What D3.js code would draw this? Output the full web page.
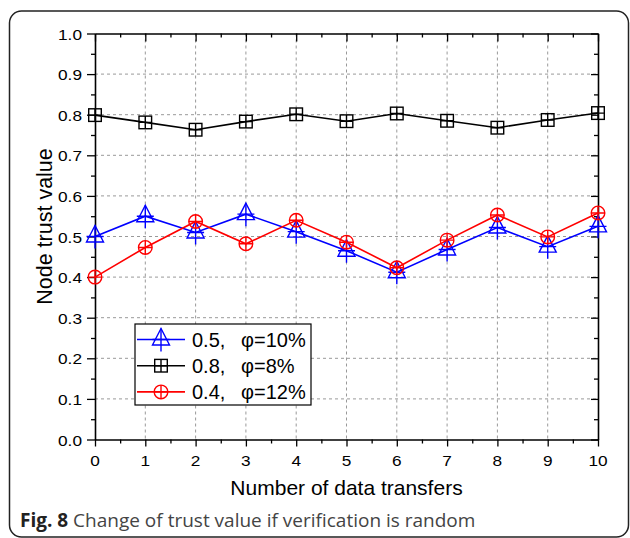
<!DOCTYPE html>
<html><head><meta charset="utf-8">
<script src="https://cdn.jsdelivr.net/npm/d3@7"></script>
<style>body{margin:0;background:#fff}svg{display:block}</style>
</head><body>
<script>
const xValues = [0,1,2,3,4,5,6,7,8,9,10];
const blueValues = [0.500,0.550,0.510,0.555,0.512,0.465,0.412,0.468,0.522,0.475,0.525];
const blackValues = [0.799,0.781,0.763,0.783,0.801,0.784,0.803,0.785,0.768,0.787,0.804];
const redValues = [0.400,0.473,0.537,0.482,0.540,0.486,0.423,0.491,0.553,0.499,0.558];
const seriesNames = ["0.5,   \u03c6=10%","0.8,   \u03c6=8%","0.4,   \u03c6=12%"];
const yTicks = [0,0.1,0.2,0.3,0.4,0.5,0.6,0.7,0.8,0.9,1.0];
const xTicks = [0,1,2,3,4,5,6,7,8,9,10];

(function(){
const W=630,H=538;
const svg=d3.select("body").append("svg").attr("width",W).attr("height",H);
svg.append("rect").attr("x",9.5).attr("y",11).attr("width",619).attr("height",526).attr("rx",12)
  .attr("fill","none").attr("stroke","#222").attr("stroke-width",1.5);

const L=95,R=598,T=33.5,B=439.5;
const x=d3.scaleLinear().domain([0,10]).range([L,R]);
const y=d3.scaleLinear().domain([0,1]).range([B,T]);
const font="Liberation Sans, Arial, sans-serif";
const SX=1.15;

// grid
const g=svg.append("g");
g.selectAll(".gx").data(xTicks.filter(d=>d>0&&d<10)).join("line")
  .attr("x1",d=>x(d)).attr("x2",d=>x(d)).attr("y1",T).attr("y2",B)
  .attr("stroke","#999").attr("stroke-dasharray","3,3").attr("stroke-width",1);
g.selectAll(".gy").data(yTicks.filter(d=>d>0&&d<1)).join("line")
  .attr("y1",d=>y(d)).attr("y2",d=>y(d)).attr("x1",L).attr("x2",R)
  .attr("stroke","#999").attr("stroke-dasharray","3,3").attr("stroke-width",1);

// axes
const minorX=d3.range(0,10.01,0.5), minorY=d3.range(0,1.001,0.05);
function styleAxis(sel){sel.select(".domain").attr("stroke","#000").attr("stroke-width",1.6);
  sel.selectAll(".tick line").attr("stroke","#000").attr("stroke-width",1.3);}
const isMajY=d=>Math.abs(d*10-Math.round(d*10))<1e-6;
const ax=svg.append("g");
const bot=ax.append("g").attr("transform",`translate(0,${B})`)
  .call(d3.axisBottom(x).tickValues(minorX).tickSize(4).tickSizeOuter(0).tickFormat(""));
bot.selectAll(".tick line").filter(d=>Number.isInteger(d)).attr("y2",7);
styleAxis(bot);
ax.append("g").selectAll("g").data(xTicks).join("g")
  .attr("transform",d=>`translate(${x(d)},${B+26.5}) scale(${SX},1)`)
  .append("text").attr("text-anchor","middle")
  .attr("font-family",font).attr("font-size",15).text(d=>d);
const lef=ax.append("g").attr("transform",`translate(${L},0)`)
  .call(d3.axisLeft(y).tickValues(minorY).tickSize(4).tickSizeOuter(0).tickFormat(""));
lef.selectAll(".tick line").filter(isMajY).attr("x2",-8);
styleAxis(lef);
ax.append("g").selectAll("g").data(yTicks).join("g")
  .attr("transform",d=>`translate(${L-13},${y(d)+6}) scale(${SX},1)`)
  .append("text").attr("text-anchor","end")
  .attr("font-family",font).attr("font-size",15).text(d=>d.toFixed(1));
const topAx=ax.append("g").attr("transform",`translate(0,${T})`)
  .call(d3.axisBottom(x).tickValues(minorX).tickSize(4).tickSizeOuter(0).tickFormat(""));
topAx.selectAll(".tick line").filter(d=>Number.isInteger(d)).attr("y2",8);
styleAxis(topAx);
const rig=ax.append("g").attr("transform",`translate(${R},0)`)
  .call(d3.axisLeft(y).tickValues(minorY).tickSize(4).tickSizeOuter(0).tickFormat(""));
rig.selectAll(".tick line").filter(isMajY).attr("x2",-7);
styleAxis(rig);

// titles
svg.append("text").attr("x",(L+R)/2).attr("y",495).attr("text-anchor","middle")
  .attr("font-family",font).attr("font-size",21).text("Number of data transfers");
svg.append("text").attr("transform",`translate(52,${(T+B)/2-10}) rotate(-90)`).attr("text-anchor","middle")
  .attr("font-family",font).attr("font-size",21.5).text("Node trust value");

function marker(sel,type,color){
  if(type==="tri"){
    sel.append("path").attr("d","M0,-11L-8.5,5.5L8.5,5.5Z").attr("fill","none").attr("stroke",color).attr("stroke-width",1.4);
    sel.append("path").attr("d","M-8.5,0H8.5M0,-11V12").attr("stroke",color).attr("stroke-width",1.4);
  } else if(type==="sq"){
    sel.append("rect").attr("x",-6.3).attr("y",-6.3).attr("width",12.6).attr("height",12.6).attr("fill","none").attr("stroke",color).attr("stroke-width",1.4);
    sel.append("path").attr("d","M-6.3,0H6.3M0,-6.3V6.3").attr("stroke",color).attr("stroke-width",1.4);
  } else {
    sel.append("circle").attr("r",6.8).attr("fill","none").attr("stroke",color).attr("stroke-width",1.4);
    sel.append("path").attr("d","M-6.8,0H6.8M0,-6.8V6.8").attr("stroke",color).attr("stroke-width",1.4);
  }
}
const series=[
  {vals:blueValues,color:"#0000ff",type:"tri"},
  {vals:blackValues,color:"#000000",type:"sq"},
  {vals:redValues,color:"#ff0000",type:"circ"}
];
const line=d3.line().x((d,i)=>x(xValues[i])).y(d=>y(d));
series.forEach(s=>{
  svg.append("path").datum(s.vals).attr("d",line).attr("fill","none").attr("stroke",s.color).attr("stroke-width",1.6);
  svg.append("g").selectAll("g").data(s.vals).join("g")
    .attr("transform",(d,i)=>`translate(${x(xValues[i])},${y(d)})`)
    .each(function(){marker(d3.select(this),s.type,s.color);});
});

const lg=svg.append("g");
lg.append("rect").attr("x",135).attr("y",324).attr("width",176).attr("height",81)
  .attr("fill","#fff").attr("stroke","#000").attr("stroke-width",1.2);
series.forEach((s,i)=>{
  const yy=339.5+i*26.2;
  lg.append("line").attr("x1",137).attr("x2",185).attr("y1",yy).attr("y2",yy).attr("stroke",s.color).attr("stroke-width",1.6);
  const m=lg.append("g").attr("transform",`translate(161,${yy})`);
  marker(m,s.type,s.color);
  const parts=seriesNames[i].split(/\s+/);
  lg.append("text").attr("x",192).attr("y",yy+7).attr("font-family",font).attr("font-size",20).text(parts[0]);
  lg.append("text").attr("x",241).attr("y",yy+7).attr("font-family",font).attr("font-size",20).text(parts[1]);
});

const cap=svg.append("text").attr("x",20).attr("y",527).attr("font-family","Open Sans, sans-serif").attr("font-size",19).attr("fill","#444");
cap.append("tspan").attr("font-weight","bold").attr("fill","#222").text("Fig. 8");
cap.append("tspan").text(" Change of trust value if verification is random");
})();
</script>
</body></html>
